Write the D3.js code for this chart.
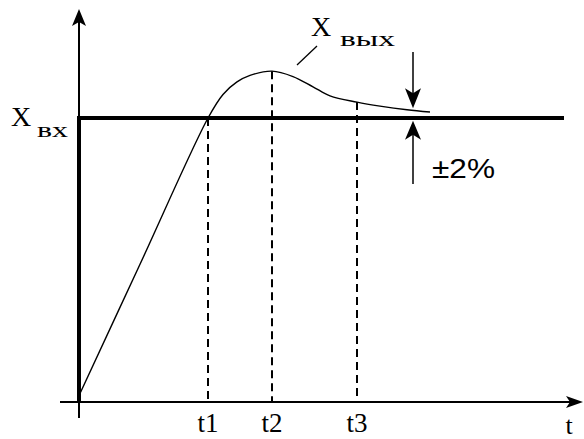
<!DOCTYPE html>
<html>
<head>
<meta charset="utf-8">
<script src="https://cdn.jsdelivr.net/npm/d3@7"></script>
<style>
  html, body { margin: 0; padding: 0; background: #fff; }
  svg { display: block; }
</style>
</head>
<body>
<svg id="chart" width="584" height="439"></svg>
<script>
// ---- data ----
const outputT = [0, 60, 128, 143, 157, 170, 192, 213, 233, 250, 277, 300, 327, 350];
const outputX = [0.03, 0.485, 1.0, 1.083, 1.127, 1.150, 1.165, 1.146, 1.110, 1.078, 1.056, 1.042, 1.029, 1.021];
const inputLevel = 1;
const markTimes = [128, 192, 277];
const markLabels = ["t1", "t2", "t3"];
const axisLabelT = "t";
const inputLabel = ["X", "вх"];
const outputLabel = ["X", "вых"];
const toleranceLabel = "±2%";
const toleranceBand = 0.02;

// ---- scales ----
const svg = d3.select("#chart");
const x = d3.scaleLinear().domain([0, 500]).range([80, 580]);
const y = d3.scaleLinear().domain([0, 1]).range([402, 118]);

const serif = "'Liberation Serif', 'Times New Roman', serif";
const sans = "'Liberation Sans', Arial, sans-serif";

// ---- axes ----
svg.append("line").attr("x1", 60).attr("x2", x(495)).attr("y1", y(0)).attr("y2", y(0))
  .attr("stroke", "#000").attr("stroke-width", 2);
svg.append("path")
  .attr("d", `M${x(503)},${y(0)} L${x(486)},${y(0) - 6} L${x(490)},${y(0)} L${x(486)},${y(0) + 6} Z`)
  .attr("fill", "#000");
svg.append("line").attr("x1", x(0) - 1).attr("x2", x(0) - 1).attr("y1", 418).attr("y2", 20)
  .attr("stroke", "#000").attr("stroke-width", 2);
svg.append("path")
  .attr("d", `M${x(0) - 1},9 L${x(0) - 8},26 L${x(0) - 1},22 L${x(0) + 6},26 Z`)
  .attr("fill", "#000");

// ---- input step ----
svg.append("path")
  .attr("d", d3.line()([[x(0) - 1, y(0)], [x(0) - 1, y(inputLevel)], [x(484), y(inputLevel)]]))
  .attr("fill", "none").attr("stroke", "#000").attr("stroke-width", 4)
  .attr("stroke-linejoin", "miter");

// ---- dashed verticals ----
const outInterp = t => {
  for (let i = 0; i < outputT.length - 1; i++) {
    if (t >= outputT[i] && t <= outputT[i + 1]) {
      const f = (t - outputT[i]) / (outputT[i + 1] - outputT[i]);
      return outputX[i] + f * (outputX[i + 1] - outputX[i]);
    }
  }
  return outputX[outputX.length - 1];
};
markTimes.forEach((t, i) => {
  svg.append("line")
    .attr("x1", x(t)).attr("x2", x(t))
    .attr("y1", y(outInterp(t))).attr("y2", y(0))
    .attr("stroke", "#000").attr("stroke-width", 2)
    .attr("stroke-dasharray", "8,5");
  svg.append("text")
    .attr("x", x(t)).attr("y", 432)
    .attr("text-anchor", "middle")
    .attr("font-family", serif).attr("font-size", 27)
    .text(markLabels[i]);
});

// ---- output curve ----
const pts = outputT.map((t, i) => [x(t), y(outputX[i])]);
svg.append("path")
  .attr("d", d3.line().curve(d3.curveCatmullRom.alpha(0.5))(pts))
  .attr("fill", "none").attr("stroke", "#000").attr("stroke-width", 1.4);

// ---- tolerance arrows ----
const ax = 413;
const yTop = y(inputLevel + toleranceBand);
const yBot = y(inputLevel - toleranceBand);
svg.append("line").attr("x1", ax).attr("x2", ax).attr("y1", 52).attr("y2", 95)
  .attr("stroke", "#000").attr("stroke-width", 1.5);
svg.append("path")
  .attr("d", `M${ax},${yTop - 4} L${ax - 8},${yTop - 24} L${ax},${yTop - 19} L${ax + 8},${yTop - 24} Z`)
  .attr("fill", "#000");
svg.append("line").attr("x1", ax).attr("x2", ax).attr("y1", 134).attr("y2", 184)
  .attr("stroke", "#000").attr("stroke-width", 1.5);
svg.append("path")
  .attr("d", `M${ax},${yBot - 3} L${ax - 8},${yBot + 16} L${ax},${yBot + 11} L${ax + 8},${yBot + 16} Z`)
  .attr("fill", "#000");

// ---- leader line for output label ----
svg.append("line").attr("x1", 297).attr("y1", 65).attr("x2", 317).attr("y2", 46)
  .attr("stroke", "#000").attr("stroke-width", 1.3);

// ---- labels ----
function subLabel(mainX, baseY, parts, subX, subBase, subLen) {
  svg.append("text").attr("x", mainX).attr("y", baseY)
    .attr("font-family", serif).attr("font-size", 28).text(parts[0]);
  svg.append("text").attr("x", subX).attr("y", subBase)
    .attr("font-family", serif).attr("font-size", 22)
    .attr("textLength", subLen).attr("lengthAdjust", "spacingAndGlyphs")
    .text(parts[1]);
}
subLabel(11, 126, inputLabel, 37, 137, 31);
subLabel(311, 36, outputLabel, 340, 46, 55);

svg.append("text").attr("x", 432).attr("y", 178)
  .attr("font-family", sans).attr("font-size", 27)
  .attr("textLength", 63).attr("lengthAdjust", "spacingAndGlyphs")
  .text(toleranceLabel);

svg.append("text").attr("x", 569).attr("y", 434)
  .attr("text-anchor", "middle")
  .attr("font-family", serif).attr("font-size", 26)
  .text(axisLabelT);
</script>
</body>
</html>
